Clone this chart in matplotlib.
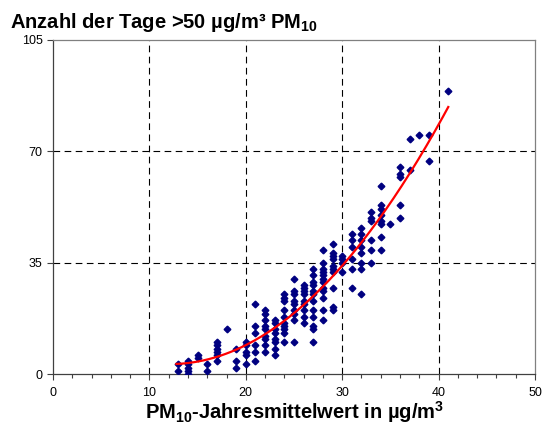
import numpy as np
import matplotlib
matplotlib.use("Agg")
import matplotlib.pyplot as plt

plt.rcParams["font.family"] = ["Liberation Sans", "DejaVu Sans"]
plt.rcParams["mathtext.fontset"] = "custom"
plt.rcParams["mathtext.rm"] = "Liberation Sans"
plt.rcParams["mathtext.bf"] = "Liberation Sans:bold"

# annual mean PM10 (x) and number of days > 50 µg/m³ (y)
pm10 = [13, 13,
        14, 14, 14, 14, 14,
        15, 15,
        16, 16,
        17, 17, 17, 17, 17, 17,
        18,
        19, 19, 19,
        20, 20, 20, 20, 20,
        21, 21, 21, 21, 21, 21,
        22, 22, 22, 22, 22, 22, 22, 22, 22,
        23, 23, 23, 23, 23, 23, 23, 23,
        24, 24, 24, 24, 24, 24, 24, 24, 24, 24,
        25, 25, 25, 25, 25, 25, 25, 25, 25,
        26, 26, 26, 26, 26, 26, 26, 26, 26,
        27, 27, 27, 27, 27, 27, 27, 27, 27, 27, 27, 27,
        28, 28, 28, 28, 28, 28, 28, 28, 28, 28, 28, 28,
        29, 29, 29, 29, 29, 29, 29, 29, 29, 29,
        30, 30, 30, 30,
        31, 31, 31, 31, 31, 31,
        32, 32, 32, 32, 32, 32, 32, 32,
        33, 33, 33, 33, 33, 33,
        34, 34, 34, 34, 34, 34, 34, 34,
        35,
        36, 36, 36, 36, 36,
        37, 37,
        38,
        39, 39,
        41]
days = [1, 3,
        0, 1, 2, 3, 4,
        5, 6,
        1, 3,
        4, 6, 7, 8, 9, 10,
        14,
        2, 4, 8,
        3, 6, 7, 9, 10,
        4, 7, 9, 13, 15, 22,
        7, 9, 11, 12, 14, 15, 17, 19, 20,
        6, 8, 10, 11, 13, 14, 16, 17,
        10, 13, 14, 15, 16, 18, 20, 23, 24, 25,
        10, 17, 19, 20, 22, 23, 25, 26, 30,
        16, 18, 20, 22, 23, 25, 26, 27, 28,
        10, 14, 15, 18, 20, 23, 25, 26, 28, 29, 31, 33,
        17, 20, 24, 26, 27, 29, 30, 31, 32, 33, 35, 39,
        20, 21, 27, 32, 33, 34, 36, 37, 38, 41,
        32, 35, 36, 37,
        27, 33, 36, 40, 42, 44,
        25, 33, 35, 38, 40, 42, 44, 46,
        35, 39, 42, 48, 49, 51,
        39, 43, 47, 48, 50, 52, 53, 59,
        47,
        49, 53, 62, 63, 65,
        64, 74,
        75,
        67, 75,
        89]

x = np.array(pm10, dtype=float)
y = np.array(days, dtype=float)

# polynomial trend line (2nd order) over the data range
coef = np.polyfit(x, y, 2)
xt = np.linspace(x.min() - 0.2, x.max(), 200)
yt = np.polyval(coef, xt)

fig = plt.figure(figsize=(5.44, 4.30), dpi=100)
ax = fig.add_axes([0.0974, 0.1302, 0.8861, 0.7768])

for v in [10, 20, 30, 40]:
    ax.axvline(v, color="black", lw=0.8, ls=(0, (6, 4)), zorder=1)
for v in [35, 70]:
    ax.axhline(v, color="black", lw=0.8, ls=(0, (6, 4)), zorder=1)

ax.plot(x, y, ls="none", marker="D", ms=3.4, color="#000080", zorder=3)
ax.plot(xt, yt, color="#ff0000", lw=1.6, zorder=4)

ax.set_xlim(0, 50)
ax.set_ylim(0, 105)
ax.set_xticks([0, 10, 20, 30, 40, 50])
ax.set_xticks(np.arange(0, 51, 2), minor=True)
ax.set_yticks([0, 35, 70, 105])
ax.tick_params(axis="both", direction="out", labelsize=9, length=4,
               width=0.8, color="#404040")
ax.tick_params(axis="x", which="minor", direction="out", length=3,
               width=0.8, color="#404040")
ax.tick_params(axis="x", pad=5)
for s in ax.spines.values():
    s.set_color("#808080")
    s.set_linewidth(0.9)
ax.spines["bottom"].set_color("#404040")
ax.spines["left"].set_color("#404040")

fig.text(0.018, 0.935, r"Anzahl der Tage >50 µg/m³ PM$_{\mathbf{10}}$",
         fontsize=14.5, fontweight="bold", ha="left", va="baseline")
fig.text(0.542, 0.026, r"PM$_{\mathbf{10}}$-Jahresmittelwert in µg/m$^{\mathbf{3}}$",
         fontsize=14.5, fontweight="bold", ha="center", va="baseline")

fig.savefig("out.png", dpi=100)
